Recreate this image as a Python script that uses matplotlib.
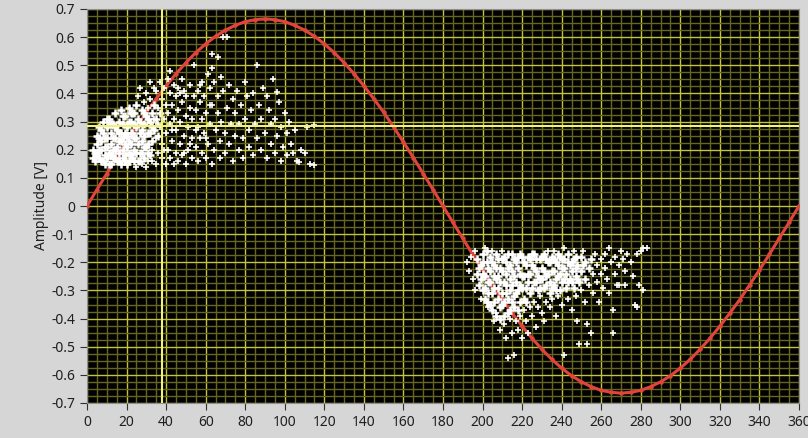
import matplotlib
matplotlib.use('Agg')
import matplotlib.pyplot as plt
from matplotlib.ticker import MultipleLocator, FuncFormatter

plt.rcParams['font.family'] = ['Noto Sans', 'DejaVu Sans']

# red reference curve, read every 5 degrees
curve_deg = list(range(0, 365, 5))
curve_amp = [0.0, 0.058, 0.115, 0.172, 0.227, 0.281, 0.333, 0.381, 0.427, 0.470,
             0.509, 0.545, 0.576, 0.603, 0.625, 0.642, 0.655, 0.662, 0.665, 0.662,
             0.655, 0.642, 0.625, 0.603, 0.576, 0.545, 0.509, 0.470, 0.427, 0.381,
             0.333, 0.281, 0.227, 0.172, 0.115, 0.058, 0.0, -0.058, -0.115, -0.172,
             -0.227, -0.281, -0.333, -0.381, -0.427, -0.470, -0.509, -0.545, -0.576,
             -0.603, -0.625, -0.642, -0.655, -0.662, -0.665, -0.662, -0.655, -0.642,
             -0.625, -0.603, -0.576, -0.545, -0.509, -0.470, -0.427, -0.381, -0.333,
             -0.281, -0.227, -0.172, -0.115, -0.058, 0.0]

# dense core of the first cloud
core1 = [(4,0.16),(4,0.19),(5,0.22),(5,0.25),(6,0.17),(6,0.28),(7,0.2),(7,0.23),(8,0.16),
         (8,0.26),(8,0.3),(9,0.18),(9,0.21),(10,0.24),(10,0.28),(11,0.15),(11,0.19),(11,0.31),
         (12,0.22),(12,0.26),(13,0.17),(13,0.2),(13,0.29),(14,0.24),(14,0.33),(15,0.16),
         (15,0.21),(15,0.27),(16,0.19),(16,0.3),(17,0.23),(17,0.26),(17,0.34),(18,0.17),
         (18,0.2),(18,0.29),(19,0.22),(19,0.32),(20,0.15),(20,0.25),(20,0.28),(21,0.19),
         (21,0.35),(22,0.22),(22,0.3),(23,0.17),(23,0.26),(23,0.33),(24,0.2),(24,0.24),
         (25,0.28),(25,0.36),(26,0.16),(26,0.22),(26,0.31),(27,0.19),(27,0.26),(28,0.34),
         (28,0.23),(29,0.17),(29,0.29),(30,0.21),(30,0.32),(31,0.26),(32,0.18),(32,0.3),
         (33,0.23),(34,0.36),(34,0.27),
         (3,0.17),(3,0.2),(5,0.18),(6,0.2),(6,0.24),(7,0.16),(7,0.27),(9,0.24),(9,0.15),
         (10,0.17),(10,0.21),(10,0.31),(12,0.15),(12,0.18),(12,0.29),(13,0.24),(14,0.17),
         (14,0.2),(14,0.28),(16,0.16),(16,0.23),(16,0.26),(17,0.15),(18,0.24),(18,0.32),
         (19,0.16),(19,0.18),(19,0.26),(20,0.21),(21,0.16),(21,0.23),(21,0.3),(22,0.26),
         (22,0.33),(22,0.18),(24,0.16),(24,0.29),(24,0.33),(25,0.19),(25,0.24),(27,0.16),
         (27,0.3),(28,0.19),(28,0.27),(29,0.21),(29,0.25),(29,0.33),(31,0.19),(31,0.22),
         (31,0.31),(32,0.26),(33,0.33),(33,0.28),(35,0.31),(36,0.25),(37,0.33)]

# scattered points of the first cloud
cloud1 = [(25,0.14),(26,0.39),(27,0.42),(28,0.15),(29,0.37),(30,0.14),(30,0.4),(31,0.16),
          (31,0.35),(32,0.44),(33,0.2),(33,0.16),(34,0.31),(35,0.15),(35,0.24),(35,0.41),
          (36,0.19),(36,0.35),(37,0.28),(37,0.44),(38,0.17),(38,0.22),(38,0.38),(39,0.31),
          (39,0.42),(40,0.15),(40,0.26),(40,0.36),(41,0.2),(41,0.33),(41,0.45),(42,0.17),
          (42,0.29),(42,0.4),(42,0.48),(43,0.23),(43,0.36),(44,0.15),(44,0.31),(44,0.43),
          (45,0.19),(45,0.27),(45,0.39),(46,0.16),(46,0.34),(46,0.42),(47,0.22),(47,0.3),
          (48,0.18),(48,0.37),(48,0.45),(49,0.25),(49,0.41),(50,0.15),(50,0.32),(50,0.39),
          (51,0.2),(51,0.28),(52,0.35),(52,0.43),(53,0.17),(53,0.24),(53,0.31),(54,0.39),
          (54,0.5),(55,0.21),(55,0.34),(56,0.16),(56,0.28),(56,0.41),(57,0.24),(57,0.37),
          (58,0.19),(58,0.31),(58,0.44),(59,0.26),(59,0.39),(60,0.17),(60,0.33),(61,0.47),
          (61,0.22),(62,0.42),(62,0.29),(63,0.54),(63,0.49),(63,0.15),(63,0.36),(64,0.2),
          (64,0.44),(65,0.27),(66,0.53),(66,0.33),(66,0.39),(67,0.17),(67,0.23),(68,0.3),
          (68,0.46),(69,0.6),(69,0.41),(71,0.6),(70,0.19),(70,0.26),(71,0.35),(72,0.22),
          (72,0.43),(73,0.29),(74,0.16),(74,0.38),(75,0.25),(75,0.33),(76,0.41),(77,0.2),
          (77,0.29),(78,0.36),(79,0.17),(79,0.24),(80,0.31),(80,0.44),(81,0.39),(82,0.21),
          (82,0.27),(83,0.34),(84,0.18),(84,0.4),(85,0.29),(86,0.5),(86,0.24),(87,0.36),
          (88,0.2),(88,0.31),(89,0.42),(90,0.26),(91,0.17),(91,0.39),(92,0.34),(93,0.22),
          (93,0.29),(94,0.45),(95,0.19),(95,0.31),(96,0.25),(96,0.405),(97,0.37),(98,0.16),
          (98,0.28),(99,0.21),(100,0.33),(101,0.18),(101,0.26),(102,0.3),(103,0.22),
          (104,0.19),(105,0.27),(106,0.16),(107,0.156),(108,0.2),(110,0.19),(111,0.28),
          (113,0.15),(115,0.146),(115,0.288),
          (32,0.38),(34,0.42),(36,0.29),(39,0.2),(43,0.27),(47,0.4),(49,0.19),(52,0.22),
          (55,0.27),(57,0.43),(60,0.24),(62,0.36)]

# dense core of the second cloud
core2 = [(197,-0.19),(197,-0.24),(198,-0.28),(199,-0.21),(200,-0.17),(200,-0.3),(201,-0.25),
         (202,-0.2),(202,-0.34),(203,-0.27),(204,-0.18),(204,-0.23),(205,-0.31),(205,-0.37),
         (206,-0.21),(207,-0.26),(207,-0.17),(208,-0.33),(208,-0.29),(209,-0.22),(209,-0.4),
         (210,-0.19),(210,-0.35),(211,-0.27),(212,-0.24),(212,-0.31),(213,-0.17),(213,-0.38),
         (214,-0.21),(215,-0.28),(215,-0.34),(216,-0.19),(216,-0.25),(217,-0.31),(218,-0.22),
         (218,-0.37),(219,-0.17),(219,-0.28),(220,-0.25),(221,-0.2),(221,-0.33),(222,-0.29),
         (223,-0.18),(223,-0.24),(224,-0.31),(225,-0.21),(226,-0.27),(226,-0.17),(227,-0.23),
         (228,-0.3),(229,-0.19),(229,-0.26),(230,-0.22),(231,-0.17),(231,-0.29),(232,-0.25),
         (233,-0.2),(234,-0.27),(234,-0.31),(235,-0.18),(236,-0.23),(236,-0.28),(237,-0.2),
         (238,-0.25),(238,-0.17),(239,-0.3),(240,-0.22),(240,-0.27),(241,-0.19),(242,-0.24),
         (242,-0.29),(243,-0.17),(244,-0.21),(244,-0.26),(245,-0.23),(246,-0.19),(246,-0.29),
         (247,-0.25),(248,-0.21),(249,-0.27),(250,-0.18),(250,-0.23),(252,-0.2),(252,-0.26),
         (254,-0.22),(255,-0.19),
         (198,-0.22),(199,-0.26),(200,-0.2),(200,-0.24),(201,-0.29),(201,-0.33),(202,-0.16),
         (203,-0.22),(203,-0.31),(204,-0.27),(204,-0.35),(205,-0.2),(206,-0.25),(206,-0.29),
         (206,-0.34),(207,-0.22),(207,-0.39),(208,-0.19),(208,-0.25),(209,-0.27),(209,-0.36),
         (210,-0.23),(210,-0.31),(211,-0.18),(211,-0.34),(211,-0.39),(212,-0.2),(212,-0.28),
         (213,-0.22),(213,-0.33),(214,-0.26),(214,-0.3),(214,-0.37),(215,-0.17),(215,-0.23),
         (216,-0.32),(216,-0.36),(217,-0.2),(217,-0.27),(218,-0.18),(218,-0.3),(219,-0.24),
         (219,-0.34),(220,-0.18),(220,-0.29),(221,-0.25),(222,-0.21),(222,-0.34),(223,-0.27),
         (224,-0.19),(224,-0.24),(225,-0.29),(225,-0.17),(226,-0.22),(227,-0.19),(227,-0.27),
         (228,-0.25),(229,-0.29),(230,-0.18),(230,-0.26),(231,-0.23),(232,-0.19),(232,-0.28),
         (233,-0.24),(234,-0.2),(235,-0.23),(235,-0.29),(236,-0.19),(237,-0.26),(237,-0.3),
         (238,-0.21),(239,-0.18),(239,-0.24),(240,-0.19),(241,-0.26),(241,-0.22),(243,-0.2),
         (243,-0.27),(245,-0.2),(245,-0.27),(247,-0.18),(247,-0.22),(248,-0.26),(251,-0.21)]

# scattered points of the second cloud
cloud2 = [(192,-0.2),(193,-0.23),(194,-0.18),(195,-0.26),(196,-0.16),(196,-0.3),(199,-0.33),
          (201,-0.15),(203,-0.36),(205,-0.16),(206,-0.41),(207,-0.38),(209,-0.44),(210,-0.16),
          (211,-0.42),(212,-0.47),(213,-0.54),(214,-0.4),(215,-0.45),(216,-0.53),(217,-0.41),
          (218,-0.44),(219,-0.39),(220,-0.47),(221,-0.37),(222,-0.41),(223,-0.45),(224,-0.36),
          (225,-0.39),(226,-0.34),(227,-0.43),(228,-0.36),(229,-0.32),(230,-0.38),(231,-0.41),
          (232,-0.34),(233,-0.16),(234,-0.36),(235,-0.33),(236,-0.16),(237,-0.39),(238,-0.32),
          (240,-0.35),(241,-0.53),(241,-0.15),(243,-0.33),(245,-0.37),(246,-0.16),(247,-0.32),
          (248,-0.41),(249,-0.49),(250,-0.3),(251,-0.16),(252,-0.34),(253,-0.42),(253,-0.49),
          (254,-0.28),(255,-0.45),(256,-0.24),(256,-0.31),(257,-0.17),(258,-0.21),(258,-0.27),
          (259,-0.34),(260,-0.19),(260,-0.24),(261,-0.29),(262,-0.17),(262,-0.22),(263,-0.26),
          (264,-0.31),(264,-0.15),(265,-0.2),(266,-0.37),(266,-0.45),(267,-0.24),(267,-0.18),
          (268,-0.28),(269,-0.21),(269,-0.28),(270,-0.16),(271,-0.19),(272,-0.28),(272,-0.23),
          (273,-0.17),(275,-0.2),(276,-0.25),(277,-0.35),(278,-0.36),(278,-0.17),(279,-0.28),
          (280,-0.16),(281,-0.3),(281,-0.15),(283,-0.15)]

cursor_x = 38
cursor_y = 0.285

fig = plt.figure(figsize=(8.08, 4.38), dpi=100, facecolor='#d6d6d6')
ax = fig.add_axes([87/808, 35/438, 712/808, 394/438])
ax.set_facecolor('black')

ax.set_xlim(0, 360)
ax.set_ylim(-0.7, 0.7)
ax.xaxis.set_major_locator(MultipleLocator(20))
ax.xaxis.set_minor_locator(MultipleLocator(5))
ax.yaxis.set_major_locator(MultipleLocator(0.1))
ax.yaxis.set_minor_locator(MultipleLocator(0.025))
ax.yaxis.set_major_formatter(FuncFormatter(lambda v, p: '0' if abs(v) < 1e-9 else '%.1f' % v))
ax.grid(which='minor', color='#66661f', lw=1)
ax.grid(which='major', color='#c4c43a', lw=1)
ax.set_axisbelow(True)
ax.tick_params(which='minor', length=0)
ax.tick_params(which='major', length=5, color='#303030', labelcolor='#202020', labelsize=10)
for s in ax.spines.values():
    s.set_color('#909090')

ax.plot(curve_deg, curve_amp, color='#e0443b', lw=2.2, marker='o', ms=2.2, zorder=3)

for pts, ms, mew in [(core1, 5.5, 1.8), (core2, 5.5, 1.8), (cloud1, 4, 1.2), (cloud2, 4, 1.2)]:
    xs = [p[0] for p in pts]
    ys = [p[1] for p in pts]
    ax.plot(xs, ys, ls='none', marker='+', ms=ms, mew=mew, color='white', zorder=4)

ax.axvline(cursor_x, color='#f2f27a', lw=1.5, zorder=5)
ax.axhline(cursor_y, color='#f2f27a', lw=1.5, zorder=5)

ax.set_ylabel('Amplitude [V]', fontsize=10, color='#202020', labelpad=2)

fig.savefig('out.png', dpi=100, facecolor=fig.get_facecolor())
